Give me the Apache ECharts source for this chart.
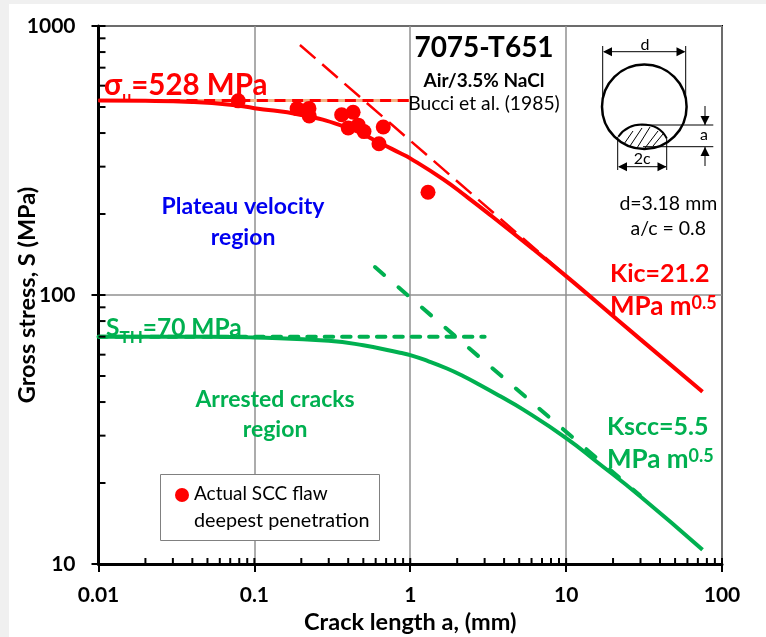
<!DOCTYPE html>
<html><head><meta charset="utf-8">
<style>html,body{margin:0;padding:0;background:#fff}#c{width:766px;height:637px}</style>
<script src="https://cdn.jsdelivr.net/npm/echarts@6/dist/echarts.min.js"></script>
</head><body><div id="c"></div>
<script>
const xTickLabels = {0.01:'0.01',0.1:'0.1',1:'1',10:'10',100:'100'};
const redCurve = [[0.01,528],[0.02,527],[0.04,522],[0.07,510],[0.1,495],[0.2,467],[0.4,418],[0.63,369],[0.859,337],[1,322],[1.63,269],[2.3,232],[3.24,199],[6.15,148],[10,117.5],[15.7,94.2],[30,68.4],[75,43.7]];
const greenCurve = [[0.01,70],[0.05,70],[0.1,69.5],[0.3,67.6],[0.5,65],[0.859,61],[1,59.8],[1.3,56.8],[1.72,53.3],[2.18,50],[2.8,46.3],[3.76,42.1],[5.31,37.5],[10,29.4],[15.7,24],[29.7,17.9],[75,11.3]];
const redLimit = [[0.01,528],[1,528]];
const greenLimit = [[0.01,70],[3,70]];
const redSlope = [[0.196,850],[9.5,121]];
const greenSlope = [[0.594,127],[29.7,18]];
const flaws = [[0.0788,527],[0.188,493],[0.224,494],[0.225,463],[0.363,468],[0.43,478],[0.4,418],[0.464,428],[0.505,405],[0.671,421],[0.63,365],[1.3,241]];
const xMinor = [0.02,0.03,0.04,0.05,0.06,0.07,0.08,0.09,0.2,0.3,0.4,0.5,0.6,0.7,0.8,0.9,2,3,4,5,6,7,8,9,20,30,40,50,60,70,80,90];
const xMajor = [0.01,0.1,1,10,100];
const yMinor = [20,30,40,50,60,70,80,90,200,300,400,500,600,700,800,900];
const yMajor = [10,100,1000];
const RED='#ff0000', GREEN='#00b050', FONT='Lato, "Open Sans", sans-serif';

function tickSeries(vals, horizontal, len){
  return {type:'custom', silent:true, z:6, clip:false,
    data: vals.map(v=> horizontal ? [v,10] : [0.01,v]),
    renderItem(p, api){
      const c = api.coord([api.value(0), api.value(1)]);
      return {type:'line', shape: horizontal ? {x1:c[0],y1:c[1],x2:c[0],y2:c[1]-len} : {x1:c[0],y1:c[1],x2:c[0]+len,y2:c[1]},
        style:{stroke:'#000',lineWidth:2}};
    }};
}
function line(data,color,width,dash,z,cap){
  return {type:'line',data,symbol:'none',z,lineStyle:{color,width,type:dash||'solid',cap:cap||'butt'},silent:true};
}
function txt(x,y,text,fs,fill,bold,align){
  return {type:'text',x,y,z:20,style:{text,fontSize:fs,fill,fontFamily:FONT,fontWeight:bold?'bold':'normal',align:align||'center',verticalAlign:'middle'}};
}
function rich(x,y,text,fs,fill,small,va,lh){
  const base={fill,fontWeight:'bold',fontFamily:FONT};
  return {type:'text',x,y,z:20,style:{text,rich:{a:{...base,fontSize:fs,lineHeight:lh},b:{...base,fontSize:small,verticalAlign:va}},align:'left',verticalAlign:'middle'}};
}
function seg(x1,y1,x2,y2,w){return {type:'line',z:20,shape:{x1,y1,x2,y2},style:{stroke:'#000',lineWidth:w||1}};}
function head(x,y,dir){
  const s=9,h=4.5; let pts;
  if(dir==='l')pts=[[x,y],[x+s,y-h],[x+s,y+h]];
  if(dir==='r')pts=[[x,y],[x-s,y-h],[x-s,y+h]];
  if(dir==='d')pts=[[x,y],[x-h,y-s],[x+h,y-s]];
  if(dir==='u')pts=[[x,y],[x-h,y+s],[x+h,y+s]];
  return {type:'polygon',z:21,shape:{points:pts},style:{fill:'#000'}};
}
const hatch=[[624,144,633,131],[630,146,642,128],[637,148,650,127],[645,148,658,131],[653,146,663,134]];
const graphic=[
  {type:'rect',z:0,silent:true,shape:{x:0,y:0,width:9,height:637},style:{fill:'#f0f0f0'}},
  {type:'rect',z:0,silent:true,shape:{x:0,y:0,width:766,height:4},style:{fill:'#f0f0f0'}},
  txt(484,48,'7075-T651',28,'#000',true),
  txt(484,81,'Air/3.5% NaCl',19,'#000',true),
  txt(484,104,'Bucci et al. (1985)',19.3,'#000',false),
  {type:'circle',z:20,shape:{cx:644.3,cy:106.7,r:42.3},style:{fill:'none',stroke:'#000',lineWidth:2.5}},
  {type:'bezierCurve',z:20,shape:{x1:618.3,y1:136.7,cpx1:625,cpy1:127,cpx2:634,cpy2:124.5,x2:642,y2:124.5},style:{fill:'none',stroke:'#000',lineWidth:2}},
  {type:'bezierCurve',z:20,shape:{x1:642,y1:124.5,cpx1:654,cpy1:124.5,cpx2:662,cpy2:129,x2:666.7,y2:138.3},style:{fill:'none',stroke:'#000',lineWidth:2}},
  ...hatch.map(h=>seg(h[0],h[1],h[2],h[3],1)),
  seg(602.7,46,602.7,97),seg(685.7,46,685.7,100),seg(604,51.7,684,51.7),
  head(603,51.7,'l'),head(685.5,51.7,'r'),txt(645,45,'d',16,'#000'),
  seg(641,125,713.3,125),seg(643,146.7,713.3,146.7),
  seg(705,106,705,125),seg(705,147,705,166),head(705,125,'d'),head(705,147,'u'),txt(704,135,'a',16,'#000'),
  seg(617.7,137,617.7,170),seg(666.7,138,666.7,170),seg(619,166.7,666,166.7),
  head(618,166.7,'l'),head(666.5,166.7,'r'),txt(642.3,159.3,'2c',16,'#000'),
  txt(668.3,203.3,'d=3.18 mm',19.5,'#000'),txt(668.3,229,'a/c = 0.8',19.5,'#000'),
  rich(104,85,'{a|σ}{b|u}{a|=528 MPa}',29.5,RED,16,'bottom',40),
  rich(106,328,'{a|S}{b|TH}{a|=70 MPa}',24.5,GREEN,17,'bottom',37),
  txt(243,207,'Plateau velocity',23,'#0000f0',true),txt(243,238,'region',23,'#0000f0',true),
  txt(275,400,'Arrested cracks',23,GREEN,true),txt(275,430,'region',23,GREEN,true),
  txt(610,274,'Kic=21.2',25,RED,true,'left'),
  rich(610,307,'{a|MPa m}{b|0.5}',26,RED,18,'top'),
  txt(607,427,'Kscc=5.5',25,GREEN,true,'left'),
  rich(607,460,'{a|MPa m}{b|0.5}',26,GREEN,18,'top'),
  {type:'rect',z:19,shape:{x:160.5,y:474.5,width:219,height:66},style:{fill:'#fff',stroke:'#808080',lineWidth:1}},
  {type:'circle',z:20,shape:{cx:182,cy:495,r:7},style:{fill:RED}},
  txt(194,494,'Actual SCC flaw',19,'#000',false,'left'),
  txt(194,521,'deepest penetration',19.8,'#000',false,'left')
];
const axisFont={fontFamily:FONT,fontWeight:'bold',fontSize:21,color:'#000'};
const chart=echarts.init(document.getElementById('c'),null,{renderer:'canvas'});
chart.setOption({
  animation:false,backgroundColor:'#fff',
  grid:{left:98.5,top:26,width:623.5,height:538,show:true,borderColor:'#000',borderWidth:2,backgroundColor:'transparent',outerBoundsMode:'none',containLabel:false},
  xAxis:{type:'log',logBase:10,min:0.01,max:100,
    name:'Crack length a, (mm)',nameLocation:'middle',nameGap:46,nameTextStyle:{...axisFont,fontSize:23.5},
    axisLine:{lineStyle:{color:'#000',width:3}},
    axisTick:{show:true,length:8,inside:false,lineStyle:{color:'#000',width:2}},
    minorTick:{show:false},
    axisLabel:{...axisFont,margin:21,hideOverlap:false,formatter:v=>{for(const k in xTickLabels){if(Math.abs(+k-v)<1e-6*+k)return xTickLabels[k];}return String(v);}},
    splitLine:{show:true,lineStyle:{color:'#919191',width:1.5}}},
  yAxis:{type:'log',logBase:10,min:10,max:1000,
    name:'Gross stress, S (MPa)',nameLocation:'middle',nameGap:59,nameMoveOverlap:false,nameTextStyle:{...axisFont,fontSize:23.5},
    axisLine:{lineStyle:{color:'#000',width:3}},
    axisTick:{show:true,length:7,inside:false,lineStyle:{color:'#000',width:2}},
    axisLabel:{...axisFont,margin:23,formatter:v=>String(Math.round(v))},
    splitLine:{show:true,lineStyle:{color:'#919191',width:1.5}}},
  graphic,
  series:[
    line(redLimit,'#f4b183',3,'solid',2),
    line(redLimit,RED,3,[11,6.6],3),
    line(greenLimit,GREEN,4,[8.5,8.9],3,'round'),
    line(redSlope,RED,2.5,[20.5,9],3),
    line(greenSlope,GREEN,4,[12,19],3,'round'),
    {...line(redCurve,RED,4,'solid',4),smooth:0.5},
    {...line(greenCurve,GREEN,4,'solid',4),smooth:0.5},
    {type:'scatter',data:flaws,symbol:'circle',symbolSize:15,z:5,itemStyle:{color:RED,opacity:1},silent:true},
    tickSeries(xMinor,true,6),tickSeries(xMajor,true,6),
    tickSeries(yMinor,false,7),tickSeries(yMajor,false,7)
  ]
});
</script></body></html>
